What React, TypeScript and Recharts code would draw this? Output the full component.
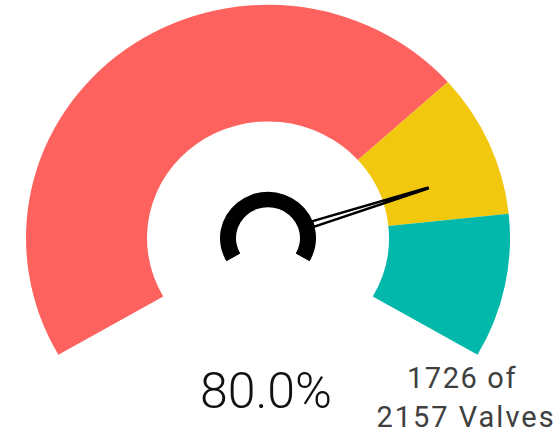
import React from 'react';
import { PieChart, Pie, Cell } from 'recharts';

// Gauge bands (percent of scale)
const bandNames = ['Low', 'Medium', 'High'];
const bandValues = [70, 15, 15];
const bandColors = ['#FD625E', '#F2C80F', '#01B8AA'];

// Measure
const actualCount = 1726;
const totalCount = 2157;
const unitLabel = 'Valves';

const pct = (actualCount / totalCount) * 100;

const bandData = bandNames.map((n, i) => ({ name: n, value: bandValues[i] }));
const needleData = [
  { name: 'value', value: pct },
  { name: 'rest', value: 100 - pct },
];
const hubData = [{ name: 'hub', value: 1 }];

const SCALE_Y = 0.964;
const W = 560;
const H = Math.round(433 / SCALE_Y);
const CX = 268;
const CY = 247;
const START = 210;
const END = -30;
const RAD = Math.PI / 180;

const renderNeedle = (props: any) => {
  if (props.index !== 0) return null;
  const { cx, cy, endAngle } = props;
  const a = -endAngle * RAD;
  const ux = Math.cos(a);
  const uy = Math.sin(a);
  const px = -uy;
  const py = ux;
  const r0 = 47;
  const r1 = 168;
  const w0 = 3.0;
  const w1 = 0.4;
  const pts = [
    [cx + ux * r0 + px * w0, cy + uy * r0 + py * w0],
    [cx + ux * r1 + px * w1, cy + uy * r1 + py * w1],
    [cx + ux * r1 - px * w1, cy + uy * r1 - py * w1],
    [cx + ux * r0 - px * w0, cy + uy * r0 - py * w0],
  ]
    .map((p) => p.join(','))
    .join(' ');
  return (
    <polygon
      points={pts}
      fill="none"
      stroke="#000"
      strokeWidth={2.6}
      strokeLinejoin="round"
    />
  );
};

export default function App() {
  return (
    <div style={{ position: 'absolute', left: 0, top: 0, width: 560, height: 433, overflow: 'hidden', background: '#fff' }}>
      <div
        style={{
          position: 'absolute',
          left: 0,
          top: 0,
          width: W,
          height: H,
          transform: `scaleY(${SCALE_Y})`,
          transformOrigin: '0 0',
        }}
      >
        <PieChart width={W} height={H} margin={{ top: 0, right: 0, bottom: 0, left: 0 }}>
          <Pie
            data={bandData}
            dataKey="value"
            cx={CX}
            cy={CY}
            startAngle={START}
            endAngle={END}
            innerRadius={121}
            outerRadius={242}
            stroke="none"
            isAnimationActive={false}
          >
            {bandData.map((d, i) => (
              <Cell key={d.name} fill={bandColors[i]} />
            ))}
          </Pie>
          <Pie
            data={hubData}
            dataKey="value"
            cx={CX}
            cy={CY}
            startAngle={START}
            endAngle={END}
            innerRadius={32}
            outerRadius={48}
            fill="#000"
            stroke="none"
            isAnimationActive={false}
          />
          <Pie
            data={needleData}
            dataKey="value"
            cx={CX}
            cy={CY}
            startAngle={START}
            endAngle={END}
            innerRadius={48}
            outerRadius={168}
            fill="transparent"
            stroke="none"
            label={renderNeedle}
            labelLine={false}
            isAnimationActive={false}
          />
        </PieChart>
      </div>
      <svg
        width={560}
        height={433}
        style={{ position: 'absolute', left: 0, top: 0, pointerEvents: 'none' }}
      >
        <text
          x={266}
          y={408}
          textAnchor="middle"
          fontFamily="Roboto, sans-serif"
          fontWeight={300}
          fontSize={50}
          fill="#111"
        >
          {`${pct.toFixed(1)}%`}
        </text>
        <text
          x={462}
          y={388}
          textAnchor="middle"
          fontFamily="Roboto, sans-serif"
          fontSize={29}
          letterSpacing={1.6}
          fill="#404040"
        >
          {`${actualCount} of`}
        </text>
        <text
          x={466}
          y={427}
          textAnchor="middle"
          fontFamily="Roboto, sans-serif"
          fontSize={29}
          letterSpacing={2}
          fill="#404040"
        >
          {`${totalCount} ${unitLabel}`}
        </text>
      </svg>
    </div>
  );
}
